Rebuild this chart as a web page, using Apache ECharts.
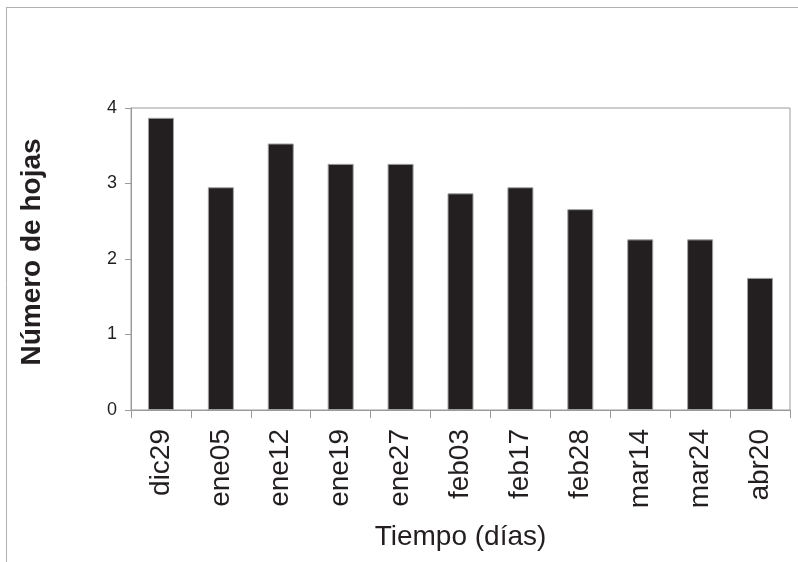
<!DOCTYPE html>
<html>
<head>
<meta charset="utf-8">
<script src="https://cdn.jsdelivr.net/npm/echarts@6/dist/echarts.min.js"></script>
<style>
    html, body { margin: 0; padding: 0; background: #fff; }
    #main { width: 798px; height: 562px; }
</style>
</head>
<body>
<div id="main"></div>
<script>
// categorías (fechas) y número de hojas
const fechas = ['dic29', 'ene05', 'ene12', 'ene19', 'ene27', 'feb03', 'feb17', 'feb28', 'mar14', 'mar24', 'abr20']
const hojas = [3.87, 2.95, 3.53, 3.26, 3.26, 2.87, 2.95, 2.66, 2.26, 2.26, 1.75]
const ticksY = [0, 1, 2, 3, 4]

const myChart = echarts.init(document.getElementById('main'))
const font = '"Liberation Sans", Arial, sans-serif'

const option = {
    animation: false,
    backgroundColor: '#fff',
    grid: {
        left: 131,
        right: 8,
        top: 108,
        bottom: 152,
        show: true,
        borderColor: '#9a9a9a',
        borderWidth: 1,
    },
    // marco exterior de la figura
    graphic: [
        { type: 'line', shape: { x1: 6, y1: 7.5, x2: 798, y2: 7.5 }, style: { stroke: '#b0b0b0', lineWidth: 1 } },
        { type: 'line', shape: { x1: 6.5, y1: 7, x2: 6.5, y2: 562 }, style: { stroke: '#b0b0b0', lineWidth: 1 } },
    ],
    xAxis: {
        type: 'category',
        data: fechas,
        name: 'Tiempo (días)',
        nameLocation: 'middle',
        nameGap: 113,
        nameTextStyle: { fontSize: 28, color: '#231f20', fontFamily: font },
        axisLine: { lineStyle: { color: '#9a9a9a', width: 1 } },
        axisTick: { show: true, length: 8, lineStyle: { color: '#9a9a9a' } },
        axisLabel: {
            rotate: 90,
            margin: 19,
            fontSize: 28,
            color: '#231f20',
            fontFamily: font,
            interval: 0,
        },
    },
    yAxis: {
        type: 'value',
        min: ticksY[0],
        max: ticksY[ticksY.length - 1],
        interval: 1,
        name: 'Número de hojas',
        nameLocation: 'middle',
        nameGap: 85,
        nameTextStyle: {
            fontSize: 28,
            fontWeight: 'bold',
            color: '#231f20',
            fontFamily: font,
            padding: [0, 0, 0, 14],
        },
        axisLine: { show: true, lineStyle: { color: '#9a9a9a', width: 1 } },
        axisTick: { show: true, length: 6, lineStyle: { color: '#9a9a9a' } },
        axisLabel: { margin: 14, fontSize: 18, color: '#231f20', fontFamily: font },
        splitLine: { show: false },
    },
    series: [{
        type: 'bar',
        data: hojas,
        barWidth: 26,
        itemStyle: {
            color: '#231f20',
            borderColor: '#a0a0a0',
            borderWidth: 1,
        },
    }],
}

myChart.setOption(option)
</script>
</body>
</html>
